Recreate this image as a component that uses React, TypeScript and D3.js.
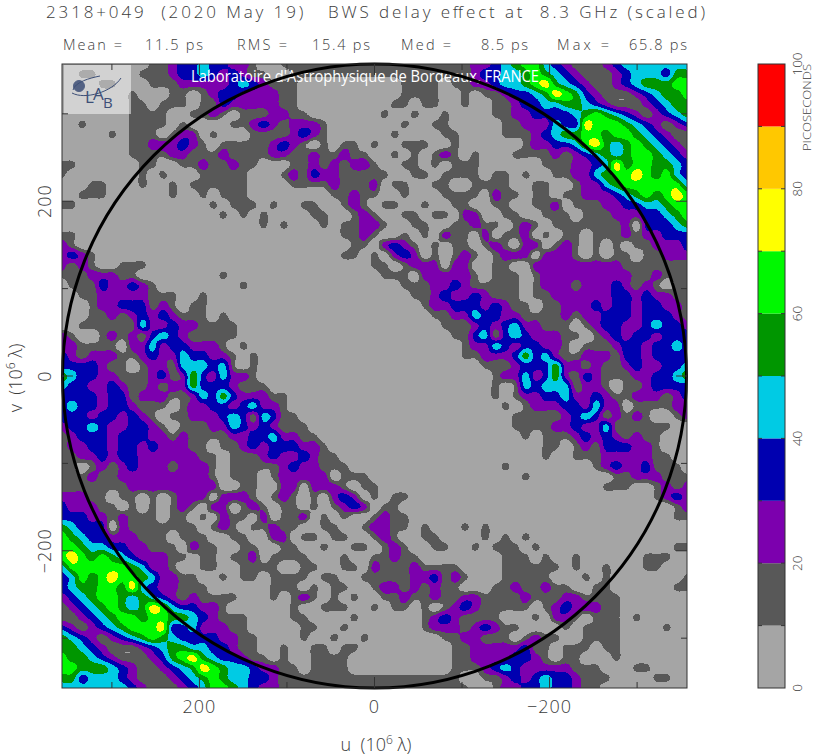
import React from "react";
import * as d3 from "d3";

// Delay-level cells (0-9 = 10 ps bands), read row by row from v = +357 down to v = 0, u = +357 to -357.
// The lower half of the map is the point reflection of the upper half, as in the reference.
const upperHalfLevels: string[] = [
  "0000000001 1233433221 0011111111 1111111111 1223456643 2111234444 444",
  "0011000011 1233432321 1001111111 1111111111 1233445654 3211123444 355",
  "0000110001 1122222343 2111000000 0000111101 1223445675 4321123455 566",
  "0000000100 0110123322 2211000000 0000111100 1011233457 6532111234 556",
  "0000000110 1110113222 2211000000 0001101100 1001123344 5543211123 455",
  "0000000111 1001121011 1221100000 0010010010 0001122333 3456543212 345",
  "0010000111 1010000112 3212221000 0000100110 0000112224 3376665432 123",
  "0000010111 0122010001 1112321000 0001000011 0000111234 5566566543 211",
  "0000000112 2232101111 1232101011 0100111001 0000001223 3467545654 321",
  "0000000111 1221112111 1221121121 1001010121 0100011112 1234545665 432",
  "1100000011 0011211211 0001121212 2100110101 1100000011 1223475665 543",
  "1000000010 1000111110 0012132211 1110011011 1101101001 1224566765 643",
  "0001100010 0101111110 0001111211 1201100110 0111100110 0122456666 664",
  "0011100000 0100101110 0000000112 1100100011 1102110110 1122234565 676",
  "1100000000 0000010111 0100110012 1011001001 1001100112 0111223344 566",
  "0000000000 0000001010 1000011001 2100110110 2200110011 1011122233 456",
  "0000000000 0000000000 1010001011 2210011001 1211012101 1111112033 345",
  "1100000000 0000000000 0000000011 2100101021 1020112010 1101112122 333",
  "2100000000 0000000000 0000000001 1023210101 1012102201 2101010112 223",
  "2321000000 0000000000 0000000011 0102320101 2101222022 2101011011 222",
  "2121001110 0000000000 0000000000 0110122202 2001100222 2222221111 111",
  "1112221100 0000001000 0000000000 0011102222 2101110122 2222222112 111",
  "0111322321 0000000010 0000000000 0000111223 2111110122 2122232121 011",
  "0011222221 1100100000 0000000000 0000011232 2321110112 2222233232 211",
  "0001223331 2101100000 0000000000 0000001223 3323211011 2223233233 221",
  "0001121232 3211101000 0000000000 0000000112 2433221111 2122333233 321",
  "0011111142 2322111100 0000000000 0000000011 1232342211 1012332234 332",
  "2100121213 4321111100 0000000000 0000000001 1341343222 1101232332 333",
  "2211110224 2332221010 0000000000 0000000000 1224323322 1011123323 343",
  "3212221123 2243322101 0000000000 0000000000 1122235342 1122213323 333",
  "3333211012 2144434101 0000000000 0000000000 0011123335 2212112322 334",
  "5433221112 3125324221 0000000000 0000000000 0001224235 2132111223 345",
];

const bandColors = ["#a5a5a5", "#585858", "#7c00ae", "#0000b0", "#00cbe4", "#009600", "#00f800", "#ffff00", "#ffc800", "#ff0000"];
const bandThresholds = [0.7, 1.5, 2.5, 3.5, 4.5, 5.5, 6.5];
const colorbarTicks = [0, 20, 40, 60, 80, 100];
const axisMajorTicks = [200, 0, -200];
const axisMinorTicks = [300, 100, -100, -300];
const statLabels = ["Mean =", "RMS =", "Med =", "Max ="];
const statValues = ["11.5 ps", "15.4 ps", "8.5 ps", "65.8 ps"];
const statLabelX = [63, 237, 401, 557];
const statLabelW = [59, 50, 50, 52];
const statValueX = [145, 312, 481, 629];
const statValueW = [58, 58, 47, 58];

const UV_MAX = 357;
const L = 62, R = 687, T = 64, B = 688;
const FONT = "'Open Sans', sans-serif";
const INK = "#3c3c3c";
const FINE = 4;

const upper = upperHalfLevels.map((r) => r.replace(/\s/g, "").padEnd(63, "0").slice(0, 63));
const rows = [...upper, ...upper.slice(0, 31).reverse().map((r) => r.split("").reverse().join(""))];
const N = rows.length;
const cell = (i: number, j: number) => +rows[Math.max(0, Math.min(N - 1, j))][Math.max(0, Math.min(N - 1, i))];

// Catmull-Rom resampling so that the contours of the cells come out round
const cr = (a: number, b: number, c: number, d: number, t: number) =>
  0.5 * (2 * b + (c - a) * t + (2 * a - 5 * b + 4 * c - d) * t * t + (3 * b - a - 3 * c + d) * t * t * t);
const M = (N - 1) * FINE + 1;
const fine = new Float64Array(M * M);
for (let y = 0; y < M; y++) {
  const j = Math.floor(y / FINE), ty = y / FINE - j;
  for (let x = 0; x < M; x++) {
    const i = Math.floor(x / FINE), tx = x / FINE - i;
    const col = [-1, 0, 1, 2].map((d) =>
      cr(cell(i - 1, j + d), cell(i, j + d), cell(i + 1, j + d), cell(i + 2, j + d), tx)
    );
    fine[y * M + x] = cr(col[0], col[1], col[2], col[3], ty);
  }
}

export default function App() {
  const u = d3.scaleLinear().domain([UV_MAX, -UV_MAX]).range([L, R]);
  const v = d3.scaleLinear().domain([UV_MAX, -UV_MAX]).range([T, B]);
  const gx = d3.scaleLinear().domain([0.5, M - 0.5]).range([L, R]);
  const gy = d3.scaleLinear().domain([0.5, M - 0.5]).range([T, B]);
  const bar = d3.scaleLinear().domain([0, 100]).range([B, T]);
  const path = d3.geoPath(
    d3.geoTransform({
      point(x: number, y: number) {
        (this as any).stream.point(gx(x), gy(y));
      },
    })
  );
  const bands = d3.contours().size([M, M]).thresholds(bandThresholds)(Array.from(fine));

  const tickLines = (ticks: number[], len: number) =>
    ticks.flatMap((t) => [
      <line key={"b" + t + len} x1={u(t)} x2={u(t)} y1={B} y2={B - len} />,
      <line key={"t" + t + len} x1={u(t)} x2={u(t)} y1={T} y2={T + len} />,
      <line key={"l" + t + len} x1={L} x2={L + len} y1={v(t)} y2={v(t)} />,
      <line key={"r" + t + len} x1={R} x2={R - len} y1={v(t)} y2={v(t)} />,
    ]);
  const fmt = (t: number) => (t < 0 ? "\u2212" + -t : String(t));

  return (
    <svg width={815} height={756} style={{ position: "absolute", left: 0, top: 0 }} fontFamily={FONT} fill={INK} fontWeight={300}>
      <rect width={815} height={756} fill="#fff" />
      <text x={46} y={18} fontSize={17} xmlSpace="preserve" textLength={659} lengthAdjust="spacing">
        2318+049  (2020 May 19)   BWS delay effect at  8.3 GHz (scaled)
      </text>
      {statLabels.map((s, i) => (
        <text key={s} x={statLabelX[i]} y={50} fontSize={14.5} textLength={statLabelW[i]} lengthAdjust="spacing">{s}</text>
      ))}
      {statValues.map((s, i) => (
        <text key={s} x={statValueX[i]} y={50} fontSize={14.5} textLength={statValueW[i]} lengthAdjust="spacing">{s}</text>
      ))}

      <clipPath id="plot"><rect x={L} y={T} width={R - L} height={B - T} /></clipPath>
      <g clipPath="url(#plot)">
        <rect x={L} y={T} width={R - L} height={B - T} fill={bandColors[0]} />
        {bands.map((b, i) => (
          <path key={i} d={path(b as any) ?? ""} fill={bandColors[i + 1]} shapeRendering="crispEdges" />
        ))}
      </g>

      <rect x={64} y={65} width={67} height={49} fill="#fff" opacity={0.5} />
      <g fill="none" stroke="#3d4f77">
        <circle cx={79} cy={86} r={5.5} fill="#3d4f77" opacity={0.85} />
        <path d="M72 93 C 85 100, 112 92, 121 78" strokeWidth={1} />
        <path d="M73 90 C 75 82, 90 78, 100 76" strokeWidth={1} />
      </g>
      <g fill="#3d4f77" fontWeight={400}>
        <text x={85} y={103} fontSize={17}>L</text>
        <text x={93} y={100} fontSize={17}>A</text>
        <text x={103} y={108} fontSize={15}>B</text>
      </g>
      <text x={191} y={82} fontSize={15.5} fontWeight={400} fill="#fff" textLength={348} lengthAdjust="spacingAndGlyphs">
        Laboratoire d'Astrophysique de Bordeaux, FRANCE
      </text>

      <circle cx={u(0)} cy={v(0)} r={312} fill="none" stroke="#000" strokeWidth={3} />

      <rect x={L} y={T} width={R - L} height={B - T} fill="none" stroke="#333" strokeWidth={1} />
      <g stroke="#333" strokeWidth={1}>
        {tickLines(axisMajorTicks, 11)}
        {tickLines(axisMinorTicks, 6)}
      </g>
      {axisMajorTicks.map((t) => (
        <text key={"xl" + t} x={u(t)} y={713} fontSize={18} textAnchor="middle" letterSpacing={1}>{fmt(t)}</text>
      ))}
      {axisMajorTicks.map((t) => (
        <text key={"yl" + t} transform={`translate(51 ${v(t)}) rotate(-90)`} fontSize={18} textAnchor="middle" letterSpacing={1}>{fmt(t)}</text>
      ))}
      <text x={376} y={751} fontSize={18} textAnchor="middle" xmlSpace="preserve">
        u  (10<tspan fontSize={12} dy={-7}>6</tspan><tspan dy={7}> λ)</tspan>
      </text>
      <text transform={`translate(22 378) rotate(-90)`} fontSize={18} textAnchor="middle" xmlSpace="preserve">
        v  (10<tspan fontSize={12} dy={-7}>6</tspan><tspan dy={7}> λ)</tspan>
      </text>

      {d3.range(10).map((i) => (
        <rect key={i} x={758} width={27} y={bar(10 * (i + 1))} height={bar(10 * i) - bar(10 * (i + 1))} fill={bandColors[i]} />
      ))}
      <rect x={758} y={T} width={27} height={B - T} fill="none" stroke="#333" strokeWidth={1} />
      <g stroke="#333">
        {d3.range(10, 100, 10).flatMap((t) => [
          <line key={"a" + t} x1={758} x2={762} y1={bar(t)} y2={bar(t)} />,
          <line key={"c" + t} x1={781} x2={785} y1={bar(t)} y2={bar(t)} />,
        ])}
      </g>
      {colorbarTicks.map((t) => (
        <text key={"cb" + t} transform={`translate(802 ${bar(t)}) rotate(-90)`} fontSize={13.5} textAnchor="middle">{t}</text>
      ))}
      <text transform="translate(811 151) rotate(-90)" fontSize={11.5} textLength={87} lengthAdjust="spacingAndGlyphs">PICOSECONDS</text>
    </svg>
  );
}
